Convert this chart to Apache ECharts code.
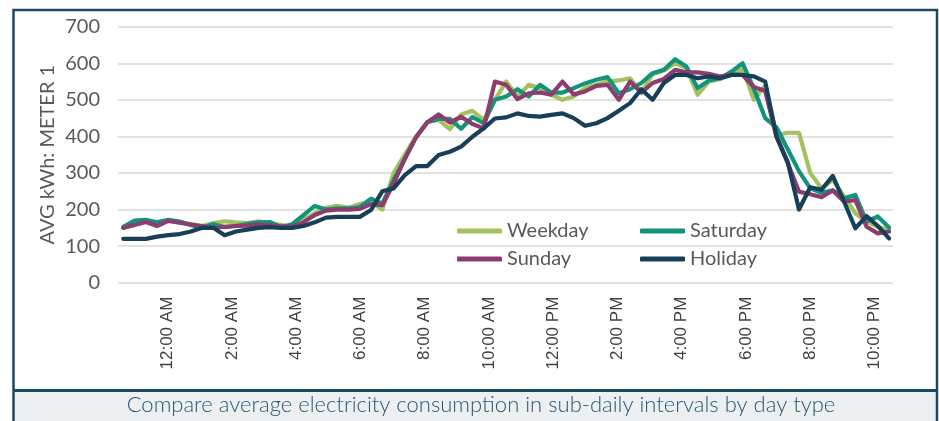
<!DOCTYPE html>
<html>
<head>
<meta charset="utf-8">
<script src="https://cdn.jsdelivr.net/npm/echarts@6/dist/echarts.min.js"></script>
<style>
  html, body { margin: 0; padding: 0; background: #fff; }
  #chart { width: 939px; height: 421px; }
</style>
</head>
<body>
<div id="chart"></div>
<script>
// readings are spaced evenly through the day; first one falls a little before midnight
const START_HOUR = -1.382
const STEP_HOURS = 0.3506

const tickHours = [0, 2, 4, 6, 8, 10, 12, 14, 16, 18, 20, 22]
const tickLabels = ['12:00 AM', '2:00 AM', '4:00 AM', '6:00 AM', '8:00 AM', '10:00 AM',
  '12:00 PM', '2:00 PM', '4:00 PM', '6:00 PM', '8:00 PM', '10:00 PM']

const weekday = [150, 165, 170, 165, 170, 165, 160, 155, 163, 168, 165, 163, 168, 163, 158, 152,
  172, 190, 205, 210, 205, 215, 220, 200, 300, 350, 400, 440, 445, 420, 460, 470, 445, 500,
  550, 509, 541, 532, 514, 500, 509, 532, 541, 550, 553, 559, 520, 570, 580, 600, 587, 514,
  550, 557, 571, 584, 500, 540, 404, 410, 410, 300, 258, 281, 236, 190, 167, 153, 144]

const saturday = [153, 170, 172, 165, 172, 167, 158, 150, 160, 152, 155, 160, 165, 166, 152, 160,
  185, 210, 200, 203, 203, 207, 230, 216, 280, 339, 398, 439, 448, 448, 421, 453, 436, 500,
  509, 529, 509, 541, 520, 520, 532, 545, 555, 562, 518, 529, 546, 573, 582, 611, 591, 532,
  553, 559, 577, 600, 530, 450, 425, 365, 305, 258, 246, 253, 231, 240, 167, 181, 151]

const sunday = [150, 158, 166, 155, 169, 164, 159, 155, 150, 153, 155, 156, 159, 157, 154, 153,
  165, 185, 197, 200, 200, 202, 215, 212, 271, 339, 398, 439, 460, 438, 454, 434, 422, 550,
  541, 502, 518, 520, 514, 550, 515, 523, 538, 541, 500, 550, 520, 546, 557, 582, 575, 575,
  571, 564, 568, 568, 535, 524, 399, 327, 249, 242, 234, 252, 222, 226, 153, 135, 140]

const holiday = [120, 120, 120, 126, 130, 133, 140, 150, 150, 130, 140, 145, 150, 152, 150, 150,
  155, 165, 178, 180, 180, 180, 199, 250, 258, 294, 319, 319, 349, 358, 372, 399, 422, 449,
  452, 463, 456, 454, 459, 463, 450, 429, 436, 450, 470, 491, 529, 500, 546, 568, 568, 559,
  564, 559, 568, 568, 564, 550, 400, 330, 200, 261, 254, 292, 222, 149, 182, 155, 121]

const seriesList = [
  { name: 'Weekday', values: weekday, color: '#a3c15f' },
  { name: 'Saturday', values: saturday, color: '#13937b' },
  { name: 'Sunday', values: sunday, color: '#8c3d6e' },
  { name: 'Holiday', values: holiday, color: '#173f58' }
]

const FRAME = '#1d4a63'
const TEXT = '#595959'

function toPoints(values) {
  return values.map((v, i) => [START_HOUR + i * STEP_HOURS, v])
}

const legendBase = {
  orient: 'vertical',
  top: 221,
  padding: 0,
  icon: 'roundRect',
  itemWidth: 45,
  itemHeight: 5,
  itemGap: 8,
  textStyle: { fontFamily: 'Lato', fontSize: 20, color: TEXT, lineHeight: 20 }
}

const chart = echarts.init(document.getElementById('chart'), null, { renderer: 'canvas' })

chart.setOption({
  animation: false,
  title: {
    text: 'Compare average electricity consumption in sub-daily intervals by day type',
    left: 476,
    top: 389,
    textAlign: 'center',
    textStyle: { fontFamily: 'Lato', fontSize: 22, fontWeight: 300, color: '#2a5672' }
  },
  graphic: [
    {
      type: 'rect', silent: true, z: -10,
      shape: { x: 14, y: 391, width: 922, height: 32 },
      style: { fill: '#ecf0f1' }
    },
    {
      type: 'rect', silent: true, z: -5,
      shape: { x: 13.5, y: 10, width: 923.5, height: 420 },
      style: { fill: null, stroke: FRAME, lineWidth: 2.5 }
    },
    {
      type: 'line', silent: true, z: -5,
      shape: { x1: 13.5, y1: 390.5, x2: 937, y2: 390.5 },
      style: { stroke: FRAME, lineWidth: 3 }
    }
  ],
  grid: { left: 118, right: 46, top: 26.7, bottom: 138.3 },
  legend: [
    Object.assign({ data: ['Weekday', 'Sunday'], left: 457 }, legendBase),
    Object.assign({ data: ['Saturday', 'Holiday'], left: 640 }, legendBase)
  ],
  xAxis: {
    type: 'value',
    min: -1.547,
    max: 22.581,
    axisLine: { show: false },
    axisTick: { show: false },
    splitLine: { show: false },
    axisLabel: {
      customValues: tickHours,
      formatter: v => tickLabels[tickHours.indexOf(v)],
      rotate: 90,
      margin: 14,
      fontFamily: 'Liberation Sans',
      fontSize: 17,
      color: '#404040'
    }
  },
  yAxis: {
    type: 'value',
    min: 0,
    max: 700,
    interval: 100,
    name: 'AVG kWh: METER 1',
    nameLocation: 'middle',
    nameGap: 60,
    nameMoveOverlap: false,
    nameTextStyle: { fontFamily: 'Lato', fontSize: 20, color: TEXT },
    axisLine: { show: false },
    axisTick: { show: false },
    axisLabel: { fontFamily: 'Lato', fontSize: 20, color: TEXT, margin: 18 },
    splitLine: { lineStyle: { color: '#d9d9d9', width: 1.5 } }
  },
  series: seriesList.map(s => ({
    name: s.name,
    type: 'line',
    symbol: 'none',
    data: toPoints(s.values),
    itemStyle: { color: s.color },
    lineStyle: { color: s.color, width: 4.2, cap: 'round', join: 'round' }
  }))
})

window.addEventListener('resize', () => chart.resize())
</script>
</body>
</html>
